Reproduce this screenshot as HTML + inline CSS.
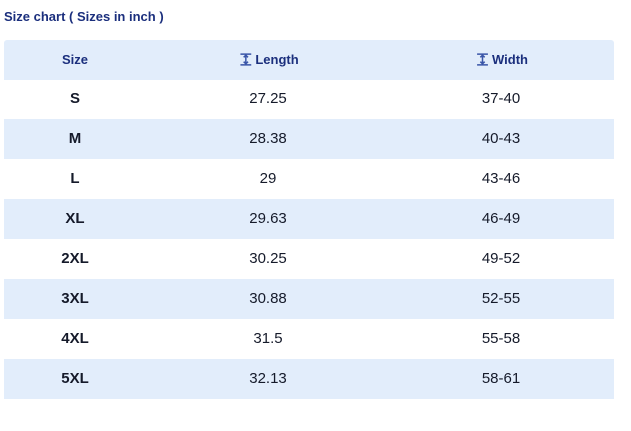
<!DOCTYPE html><html><head><style>
body{margin:0;width:631px;height:431px;background:#fff;font-family:"Liberation Sans",sans-serif;position:relative;overflow:hidden}
.t{position:absolute;left:4px;top:9px;font-size:13px;font-weight:bold;color:#1b2f7d}
.r{position:absolute;left:4px;width:610px;height:40px}
.s{background:#e2edfb}
.c{position:absolute;top:0;height:40px;line-height:40px;text-align:center;font-size:15px;color:#151a2a;transform:translateX(-50%);white-space:nowrap}
.h .c{font-size:13px;font-weight:bold;color:#1b2f7d}
.b{font-weight:bold}
svg{vertical-align:-2px;margin-right:3px}
</style></head><body>
<div class="t">Size chart ( Sizes in inch )</div>
<div class="r s h" style="top:40px;border-radius:3px 3px 0 0">
<div class="c" style="left:71px">Size</div>
<div class="c" style="left:265px"><svg width="13" height="13" viewBox="0 0 12 12"><path d="M1 1H11M1 11H11M6 2V10M4 4L6 2L8 4M4 8L6 10L8 8" stroke="#3a56a8" stroke-width="1.4" fill="none"/></svg>Length</div>
<div class="c" style="left:498px"><svg width="13" height="13" viewBox="0 0 12 12"><path d="M1 1H11M1 11H11M6 2V10M4 4L6 2L8 4M4 8L6 10L8 8" stroke="#3a56a8" stroke-width="1.4" fill="none"/></svg>Width</div>
</div>
<div class="r" style="top:79px"><div class="c b" style="left:71px">S</div><div class="c" style="left:264px">27.25</div><div class="c" style="left:497px">37-40</div></div>
<div class="r s" style="top:119px"><div class="c b" style="left:71px">M</div><div class="c" style="left:264px">28.38</div><div class="c" style="left:497px">40-43</div></div>
<div class="r" style="top:159px"><div class="c b" style="left:71px">L</div><div class="c" style="left:264px">29</div><div class="c" style="left:497px">43-46</div></div>
<div class="r s" style="top:199px"><div class="c b" style="left:71px">XL</div><div class="c" style="left:264px">29.63</div><div class="c" style="left:497px">46-49</div></div>
<div class="r" style="top:239px"><div class="c b" style="left:71px">2XL</div><div class="c" style="left:264px">30.25</div><div class="c" style="left:497px">49-52</div></div>
<div class="r s" style="top:279px"><div class="c b" style="left:71px">3XL</div><div class="c" style="left:264px">30.88</div><div class="c" style="left:497px">52-55</div></div>
<div class="r" style="top:319px"><div class="c b" style="left:71px">4XL</div><div class="c" style="left:264px">31.5</div><div class="c" style="left:497px">55-58</div></div>
<div class="r s" style="top:359px"><div class="c b" style="left:71px">5XL</div><div class="c" style="left:264px">32.13</div><div class="c" style="left:497px">58-61</div></div>
</body></html>
